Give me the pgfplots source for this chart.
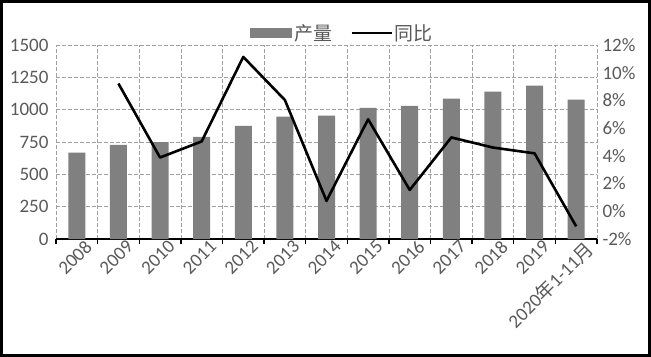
\documentclass[border=0pt]{standalone}
\usepackage{pgfplots}
\pgfplotsset{compat=1.18}
\usepackage{fontspec}
\setmainfont{Carlito}
\newfontfamily\cjk{Noto Sans CJK SC}
\definecolor{txt}{HTML}{595959}
\definecolor{barc}{HTML}{808080}
\definecolor{gridc}{HTML}{A0A0A0}
\pgfplotsset{
  every axis/.append style={
    scale only axis, width=541bp, height=194bp,
    xmin=-0.5, xmax=12.5,
    tick label style={font=\fontsize{19bp}{22bp}\selectfont, text=txt},
    /pgf/number format/assume math mode=true,
    /pgf/number format/1000 sep={},
  }
}
\begin{document}
\begin{tikzpicture}
\begin{axis}[
  at={(0,0)}, anchor=south west,
  ymin=0, ymax=1500,
  ytick={0,250,...,1500},
  xtick={0,...,12},
  xticklabels={2008,2009,2010,2011,2012,2013,2014,2015,2016,2017,2018,2019,{2020{\cjk 年}1-11{\cjk 月}}},
  minor xtick={-0.5,0.5,...,12.5},
  axis x line*=bottom, axis y line*=left,
  y axis line style={draw=none},
  x axis line style={black, line width=1.6bp, -},
  major tick length=0pt,
  minor tick length=5bp,
  tick align=outside,
  minor x tick style={black, line width=1.4bp},
  ytick style={draw=none},
  ymajorgrids, xminorgrids,
  grid style={gridc, line width=0.6bp, dash pattern=on 4bp off 2bp},
  minor grid style={gridc, line width=0.6bp, dash pattern=on 4bp off 2bp},
  xticklabel style={rotate=45, anchor=north east, inner sep=1bp, xshift=6bp, yshift=-4bp},
  yticklabel style={xshift=-4bp},
  legend style={at={(0.5,1.0)}, anchor=south, draw=none, fill=none,
    legend columns=2, font=\fontsize{19bp}{22bp}\selectfont\cjk, text=txt,
    /tikz/every even column/.append style={column sep=16bp}, xshift=16bp, yshift=-1bp},
]
\addplot[ybar, bar width=17bp, bar shift=0pt, fill=barc, draw=none,
  legend image code/.code={\fill[barc] (0bp,-5bp) rectangle (42bp,5bp);}]
  coordinates {(0,667) (1,727) (2,750) (3,789) (4,874) (5,946) (6,954) (7,1014) (8,1030) (9,1085) (10,1139) (11,1186) (12,1077)};
\addlegendentry{产量}
\addlegendimage{legend image code/.code={\draw[black, line width=2.6bp] (0bp,0bp) -- (40bp,0bp);}}
\addlegendentry{同比}
\end{axis}
\begin{axis}[
  at={(0,0)}, anchor=south west,
  ymin=-2, ymax=12,
  ytick={-2,0,...,12},
  yticklabel={\pgfmathprintnumber{\tick}\%},
  axis y line*=right, axis x line=none,
  y axis line style={draw=none},
  ytick style={draw=none},
  yticklabel style={xshift=2bp},
]
\addplot[black, line width=2.6bp, line join=round, mark=none]
  coordinates {(1,9.22) (2,3.88) (3,5.04) (4,11.14) (5,8.03) (6,0.75) (7,6.64) (8,1.54) (9,5.33) (10,4.60) (11,4.18) (12,-1.09)};
\end{axis}
\pgfresetboundingbox
\path[use as bounding box] (-56bp,-118bp) rectangle (595bp,239bp);
\draw[line width=3bp] (-54.5bp,-116.5bp) rectangle (593.5bp,237.5bp);
\end{tikzpicture}
\end{document}
